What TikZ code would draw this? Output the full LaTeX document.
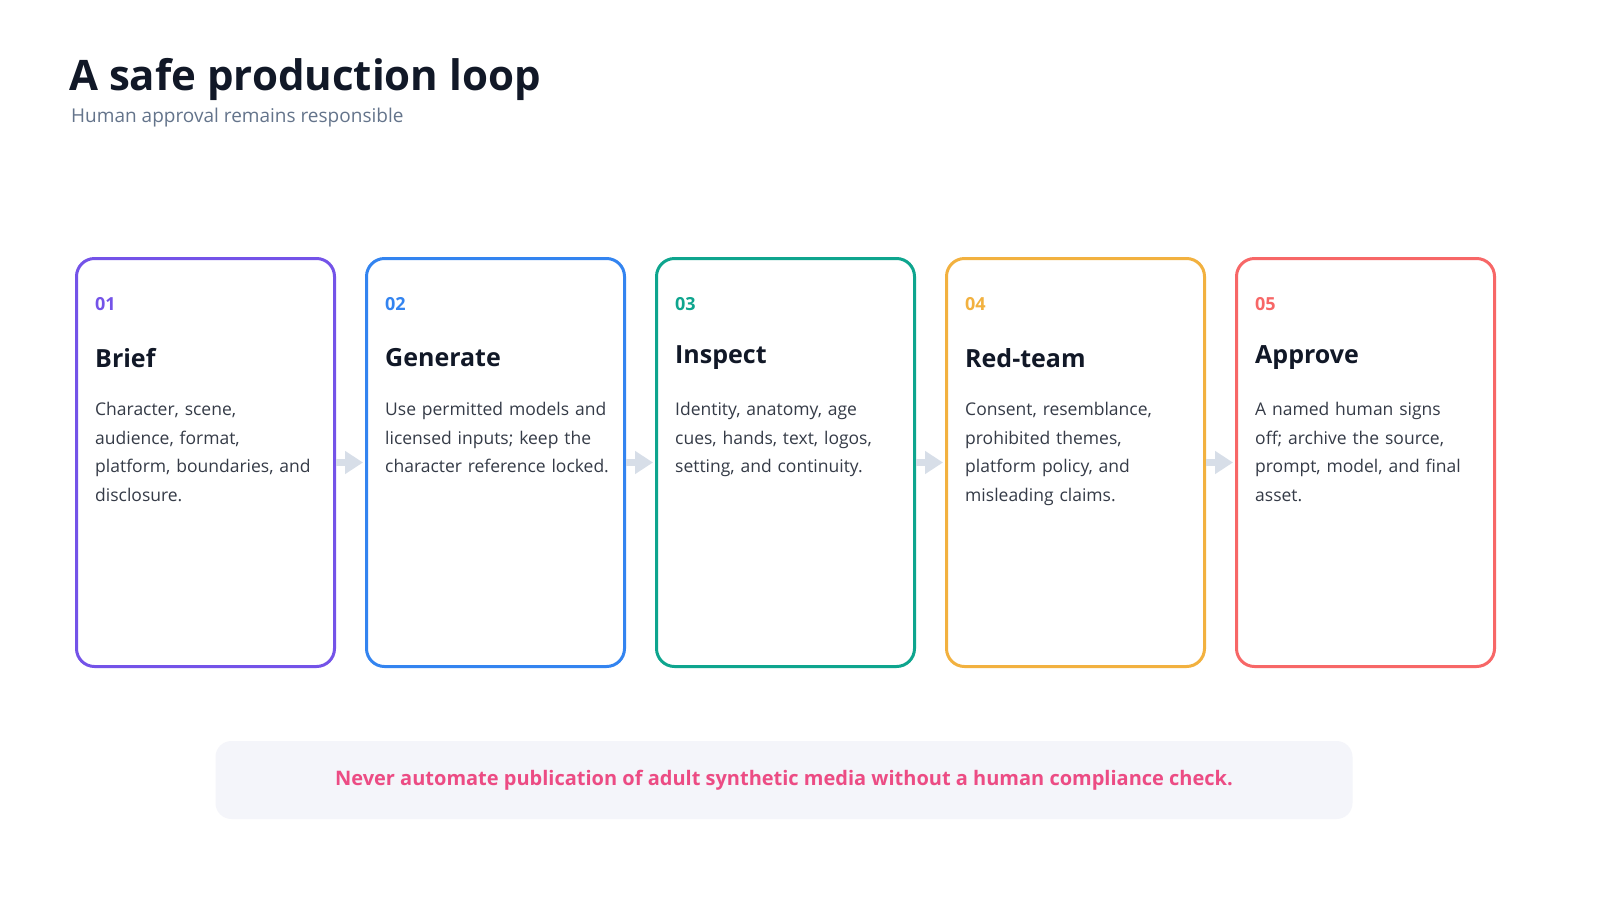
\documentclass[tikz,border=0pt]{standalone}
\usepackage{fontspec}
\setmainfont{Open Sans}
\usetikzlibrary{positioning,arrows.meta}
\hyphenpenalty=10000
\exhyphenpenalty=10000
\definecolor{ink}{HTML}{111827}
\definecolor{muted}{HTML}{64748B}
\definecolor{cbrief}{HTML}{7453E8}
\definecolor{cgen}{HTML}{3384F0}
\definecolor{cinsp}{HTML}{0EA58E}
\definecolor{cred}{HTML}{F2B13F}
\definecolor{capp}{HTML}{F76767}
\definecolor{flow}{HTML}{D7DEE8}
\definecolor{notebg}{HTML}{F4F5FA}
\definecolor{notefg}{HTML}{EC4C84}
\tikzset{
  card/.style={draw=#1, line width=3pt, rounded corners=18pt, fill=white,
               minimum width=258pt, minimum height=408pt, anchor=north west, inner sep=0pt},
  num/.style={text=#1, font=\fontsize{18}{22}\selectfont\bfseries, anchor=west},
  ttl/.style={text=ink, font=\fontsize{25}{30}\selectfont\bfseries, anchor=west},
  body/.style={text=ink!85, font=\fontsize{17.5}{28.5}\selectfont, anchor=north west,
               text width=226pt, align=left, inner sep=0pt},
  link/.style={-{Triangle[length=18pt,width=22pt]}, line width=7pt, draw=flow}
}
\begin{document}
\begin{tikzpicture}[x=1pt,y=-1pt]
  \useasboundingbox[fill=white] (0,0) rectangle (1600,900);
  % heading
  \node[anchor=base west, text=ink, font=\fontsize{42}{50}\selectfont\bfseries, inner sep=0pt] (head) at (69,90) {A safe production loop};
  \node[anchor=base west, text=muted, font=\fontsize{19}{24}\selectfont, inner sep=0pt] (sub) at (71,122) {Human approval remains responsible};
  % cards
  \foreach \i/\c/\n/\t/\b in {
    0/cbrief/01/Brief/{Character, scene, audience, format, platform, boundaries, and disclosure.},
    1/cgen/02/Generate/{Use permitted models and licensed inputs; keep the character reference locked.},
    2/cinsp/03/Inspect/{Identity, anatomy, age cues, hands, text, logos, setting, and continuity.},
    3/cred/04/Red-team/{Consent, resemblance, prohibited themes, platform policy, and misleading claims.},
    4/capp/05/Approve/{A named human signs off; archive the source, prompt, model, and final asset.}} {
    \node[card=\c] (card\i) at ({75+290*\i},257) {};
    \node[num=\c, inner sep=0pt] (num\i) at ({95+290*\i},304) {\n};
    \node[ttl, inner sep=0pt] (ttl\i) at ({95+290*\i},358) {\t};
    \node[body] (body\i) at ({95+290*\i},402) {\b};
  }
  % connectors
  \foreach \i [evaluate=\i as \j using int(\i+1)] in {0,...,3}
    \draw[link] (card\i.east) -- ([xshift=-2pt]card\j.west);
  % note
  \node[fill=notebg, rounded corners=16pt, minimum width=1137pt, minimum height=78pt,
        text=notefg, font=\fontsize{20}{24}\selectfont\bfseries] (note) at (784,780)
        {Never automate publication of adult synthetic media without a human compliance check.};
\end{tikzpicture}
\end{document}
